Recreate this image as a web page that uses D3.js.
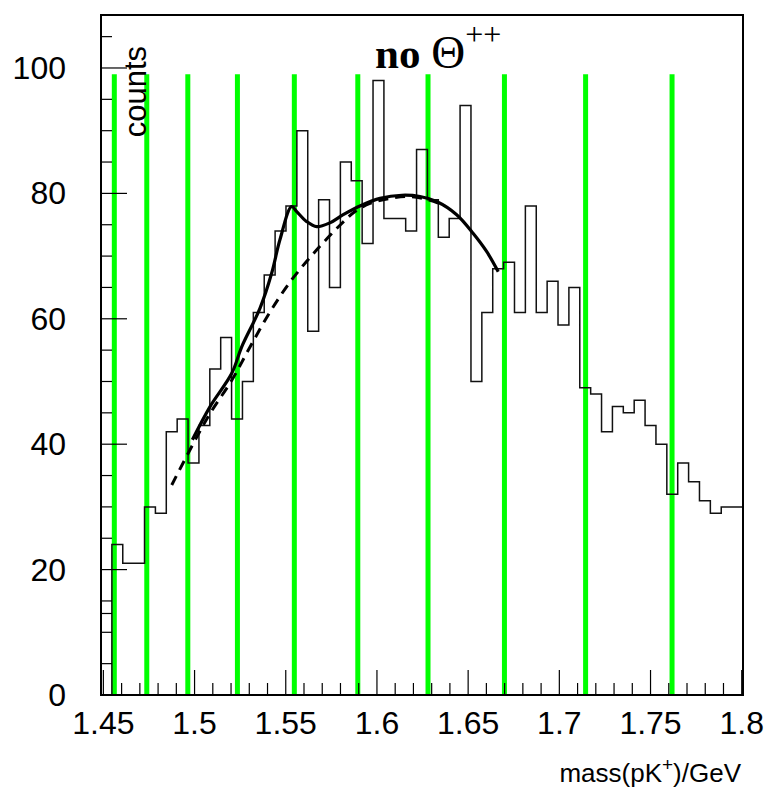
<!DOCTYPE html>
<html>
<head>
<meta charset="utf-8">
<script src="https://cdn.jsdelivr.net/npm/d3@7"></script>
<style>
  html, body { margin: 0; padding: 0; background: #fff; }
  svg { display: block; }
</style>
</head>
<body>
<svg id="chart" width="766" height="798"></svg>
<script>
// ---------------- data ----------------
const histRange = [1.4487, 1.8007];          // histogram axis range (GeV)
const counts = [0, 24, 21, 21, 30, 29, 42, 44, 37, 43, 52, 57, 44, 50, 61, 67, 74, 78, 90, 58,
                79, 65, 85, 82, 72, 98, 76, 76, 74, 87, 79, 73, 76, 94, 50, 61, 68, 69, 61, 78,
                61, 66, 59, 65, 49, 48, 42, 46, 45, 47, 43, 40, 32, 37, 34, 31, 29, 30, 30];
const greenLines = [1.4560, 1.4738, 1.4963, 1.5235, 1.5547, 1.5895, 1.6280, 1.6699, 1.7144, 1.7618];
const greenTop = 99;
const fitX = [1.4988, 1.5085, 1.5204, 1.5258, 1.5359, 1.5423, 1.5468, 1.5532, 1.5560, 1.5615, 1.5670,
              1.5742, 1.5815, 1.5916, 1.6017, 1.6136, 1.6236, 1.6327, 1.6437, 1.6528, 1.6602, 1.6665];
const fitY = [40.7, 46.0, 51.3, 55.5, 61.7, 67.3, 72.6, 77.9, 77.1, 75.5, 74.7,
              75.3, 76.6, 78.1, 79.2, 79.7, 79.5, 78.7, 76.6, 73.6, 70.7, 67.5];
const bgX = [1.4875, 1.4993, 1.5085, 1.5204, 1.5304, 1.5414, 1.5532, 1.5670, 1.5807, 1.5880,
             1.5962, 1.6071, 1.6181, 1.6291, 1.6373];
const bgY = [33.5, 40.1, 44.9, 50.2, 55.5, 61.1, 66.2, 71.0, 75.2, 77.1, 78.4, 79.2, 79.5, 78.9, 78.0];
const xTickLabels = ["1.45", "1.5", "1.55", "1.6", "1.65", "1.7", "1.75", "1.8"];
const xTickValues = [1.45, 1.50, 1.55, 1.60, 1.65, 1.70, 1.75, 1.80];
const yTickValues = [0, 20, 40, 60, 80, 100];
const yTickLabels = ["0", "20", "40", "60", "80", "100"];
const yExtraTicks = [13];
const yMax = 108.45;

// ---------------- layout ----------------
const L = 101, R = 743, T = 15, B = 695;
const svg = d3.select("#chart");
const x = d3.scaleLinear().domain(histRange).range([L, R]);
const y = d3.scaleLinear().domain([0, yMax]).range([B, T]);
const sans = "'Liberation Sans', Arial, Helvetica, sans-serif";

// green vertical lines
svg.append("g").selectAll("line").data(greenLines).join("line")
  .attr("x1", d => x(d)).attr("x2", d => x(d))
  .attr("y1", y(0)).attr("y2", y(greenTop))
  .attr("stroke", "#00ff00").attr("stroke-width", 5);

// histogram outline
const nb = counts.length;
const bw = (histRange[1] - histRange[0]) / nb;
const pts = [];
counts.forEach((c, i) => {
  pts.push([histRange[0] + i * bw, c]);
  pts.push([histRange[0] + (i + 1) * bw, c]);
});
svg.append("path")
  .attr("d", d3.line().x(d => x(d[0])).y(d => y(d[1]))(pts))
  .attr("fill", "none").attr("stroke", "#111").attr("stroke-width", 1.5);

// background (dashed) and total fit (solid)
const smooth = d3.line().curve(d3.curveCatmullRom.alpha(0.5)).x(d => x(d[0])).y(d => y(d[1]));
svg.append("path")
  .attr("d", smooth(bgX.map((v, i) => [v, bgY[i]])))
  .attr("fill", "none").attr("stroke", "#000").attr("stroke-width", 3)
  .attr("stroke-dasharray", "10,7");
svg.append("path")
  .attr("d", smooth(fitX.map((v, i) => [v, fitY[i]])))
  .attr("fill", "none").attr("stroke", "#000").attr("stroke-width", 3.2);

// axes: ticks
const ax = svg.append("g").attr("stroke", "#000").attr("stroke-width", 1.2);
const xMinor = d3.range(0, 36).map(i => 1.45 + i * 0.01);
ax.selectAll(".xm").data(xMinor).join("line")
  .attr("x1", d => x(d)).attr("x2", d => x(d))
  .attr("y1", B).attr("y2", (d, i) => i % 5 === 0 ? B - 25 : B - 12);
const yMinor = d3.range(0, 22).map(i => i * 5);
ax.selectAll(".ym").data(yMinor).join("line")
  .attr("y1", d => y(d)).attr("y2", d => y(d))
  .attr("x1", L).attr("x2", (d, i) => i % 4 === 0 ? L + 26 : L + 11);
ax.selectAll(".ye").data(yExtraTicks).join("line")
  .attr("y1", d => y(d)).attr("y2", d => y(d))
  .attr("x1", L).attr("x2", L + 11);

// frame
svg.append("rect").attr("x", L).attr("y", T).attr("width", R - L).attr("height", B - T)
  .attr("fill", "none").attr("stroke", "#000").attr("stroke-width", 2);

// tick labels
svg.append("g").selectAll("text").data(xTickValues).join("text")
  .attr("x", d => x(d)).attr("y", 734)
  .attr("text-anchor", "middle")
  .attr("font-family", sans).attr("font-size", 32)
  .text((d, i) => xTickLabels[i]);
svg.append("g").selectAll("text").data(yTickValues).join("text")
  .attr("x", 66).attr("y", d => y(d) + 11)
  .attr("text-anchor", "end")
  .attr("font-family", sans).attr("font-size", 32)
  .text((d, i) => yTickLabels[i]);

// axis titles
const xt = svg.append("text").attr("x", 741).attr("y", 782).attr("text-anchor", "end")
  .attr("font-family", sans).attr("font-size", 26);
xt.append("tspan").text("mass(pK");
xt.append("tspan").attr("dy", -11).attr("font-size", 19).text("+");
xt.append("tspan").attr("dy", 11).text(")/GeV");

svg.append("text")
  .attr("transform", "translate(146,46) rotate(-90)")
  .attr("text-anchor", "end")
  .attr("font-family", sans).attr("font-size", 31)
  .text("counts");

// title
const tt = svg.append("text").attr("x", 375).attr("y", 68)
  .attr("font-family", "'Liberation Serif', 'Times New Roman', serif").attr("font-size", 43);
tt.append("tspan").attr("font-weight", "bold").text("no ");
tt.append("tspan").attr("font-size", 47).text("Θ");
tt.append("tspan").attr("dy", -23).attr("font-size", 32).text("++");
</script>
</body>
</html>
